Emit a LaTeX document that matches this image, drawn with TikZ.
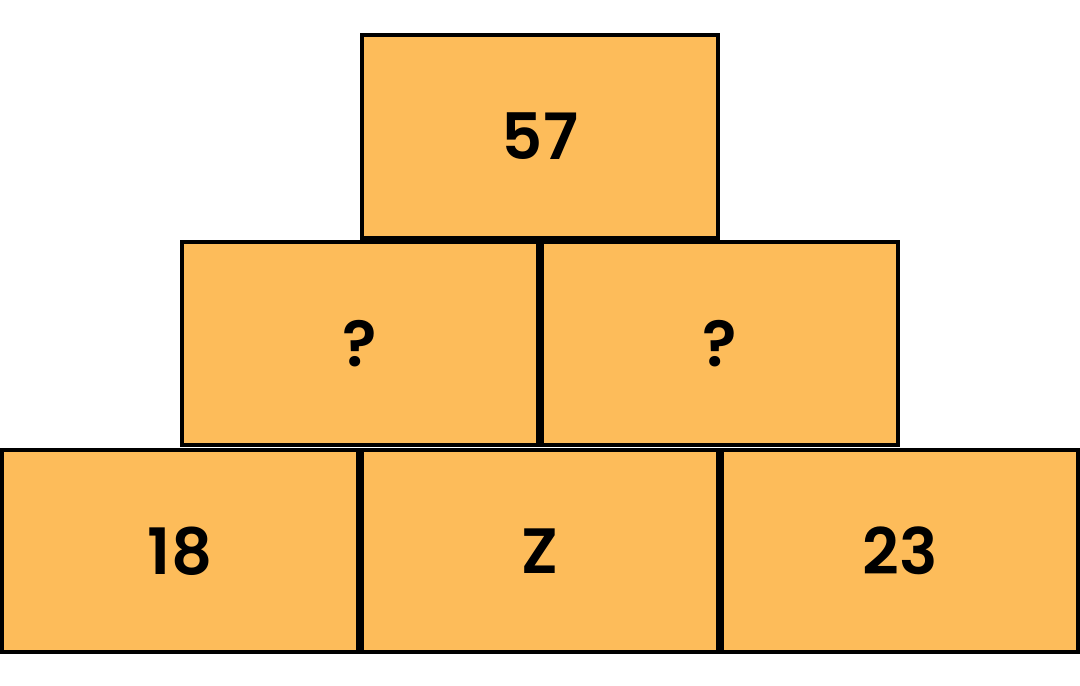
\documentclass[tikz,border=0pt]{standalone}
\usepackage{fontspec}
\setmainfont{Poppins}[BoldFont={Poppins SemiBold}]
\usepackage{tikz}
\usetikzlibrary{shapes}
\definecolor{brick}{RGB}{253,188,90}
\tikzset{block/.style={draw,line width=4bp,fill=brick,rectangle,inner sep=0pt,
  minimum width=356bp,minimum height=203bp,
  font=\fontsize{64bp}{70bp}\selectfont\bfseries}}

\begin{document}
\begin{tikzpicture}
\useasboundingbox (0bp,0bp) rectangle (1080bp,-686bp);

\node (top) at (540bp,-136.5bp)[block] {57};
\node (midL) at (360bp,-343.5bp)[block] {?};
\node (midR) at (720bp,-343.5bp)[block] {?};
\node (botL) at (180bp,-551bp)[block,minimum height=202bp] {18};
\node (botM) at (540bp,-551bp)[block,minimum height=202bp] {Z};
\node (botR) at (900bp,-551bp)[block,minimum height=202bp] {23};
\end{tikzpicture}
\end{document}
